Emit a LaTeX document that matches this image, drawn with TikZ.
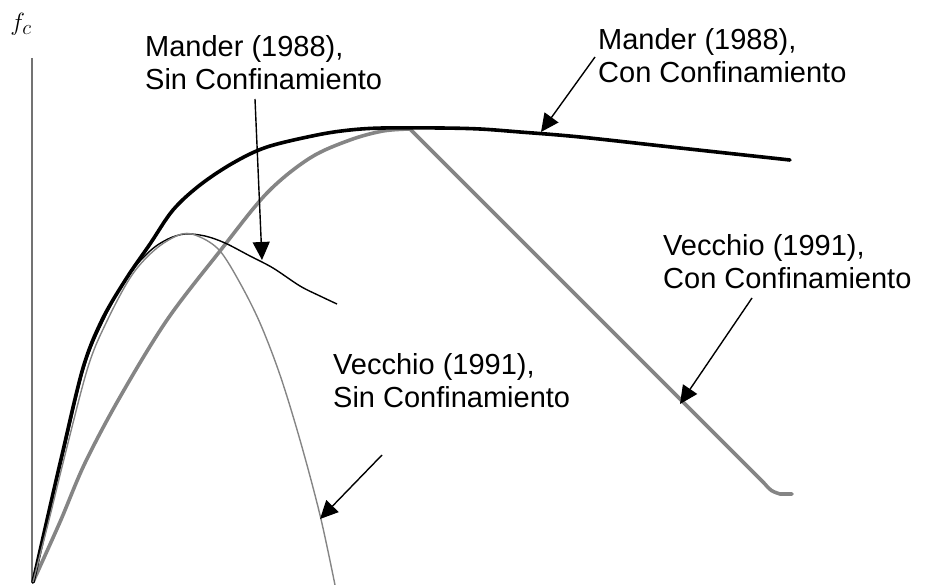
\documentclass[tikz,border=0pt]{standalone}
\usepackage{fontspec}
\setmainfont{Liberation Sans}
\usetikzlibrary{arrows.meta}
\begin{document}
\begin{tikzpicture}[x=1pt,y=-1pt,
  axisline/.style={line width=1.3pt, draw=black!55},
  confined/.style={line width=3.6pt, line join=round, line cap=round},
  plain/.style={line width=1.4pt, line join=round},
  ink/.style={draw=black},
  greyink/.style={draw=black!48},
  pointer/.style={line width=1.4pt, -{Triangle[length=18pt,width=17pt]}},
  lbl/.style={font=\fontsize{29}{33}\selectfont, align=left, inner sep=0pt, anchor=base west},
]
\useasboundingbox (0,0) rectangle (939,585);

% stress axis
\draw[axisline] (32,58) -- (32,583);
\node[inner sep=0pt, anchor=base, font=\fontsize{30}{30}\selectfont] (fc) at (21,31) {$f_c$};

% Vecchio (1991), confined
\draw[confined, greyink] plot[smooth, tension=0.55] coordinates {
  (33,582) (60,522) (85,463) (120,397) (167,320) (220,251) (267,193)
  (310,158) (350,140) (383,131) (410,129)}
  -- (764,483) .. controls (771,491) .. (780,494) -- (792,494);

% Mander (1988), confined
\draw[confined, ink] plot[smooth, tension=0.55] coordinates {
  (33,582) (47,520) (62,455) (83,368) (102,320) (126,279) (150,244)
  (173,210) (200,185) (233,163) (267,147) (317,135) (350,130) (383,128)
  (440,128) (480,129) (520,132) (580,137) (680,148) (790,160)};

% Mander (1988), unconfined
\draw[plain, ink] plot[smooth, tension=0.55] coordinates {
  (33,582) (47,520) (63,455) (84,368) (104,319) (128,276) (150,251)
  (168,239) (185,234) (205,236) (225,243) (250,256) (273,268) (300,286)
  (320,296) (337,304)};

% Vecchio (1991), unconfined
\draw[plain, greyink] plot[smooth, tension=0.55] coordinates {
  (33,582) (49,520) (65,455) (88,367) (107,321) (132,275) (157,248)
  (182,234) (200,237) (220,251) (240,283) (260,323) (280,375) (300,440)
  (320,515) (335,585)};

% labels
\node[lbl] (msin) at (145,90) {Mander (1988),\\Sin Confinamiento};
\node[lbl] (mcon) at (598,83) {Mander (1988),\\Con Confinamiento};
\node[lbl] (vcon) at (663,288) {Vecchio (1991),\\Con Confinamiento};
\node[lbl] (vsin) at (333,407) {Vecchio (1991),\\Sin Confinamiento};

% pointers from labels to curves
\coordinate (msinA) at (255,99);  \coordinate (msinB) at (262,260);
\coordinate (mconA) at (595,57);  \coordinate (mconB) at (541,132);
\coordinate (vconA) at (752,298); \coordinate (vconB) at (680,404);
\coordinate (vsinA) at (382,455); \coordinate (vsinB) at (320,519);
\draw[pointer] (msinA) -- (msinB);
\draw[pointer] (mconA) -- (mconB);
\draw[pointer] (vconA) -- (vconB);
\draw[pointer] (vsinA) -- (vsinB);
\end{tikzpicture}
\end{document}
